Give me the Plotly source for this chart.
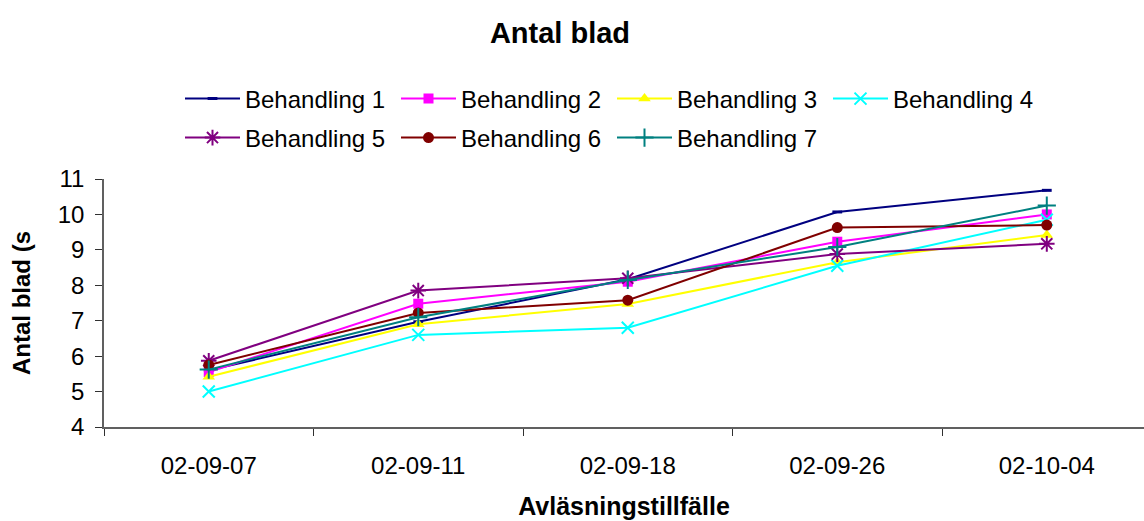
import plotly.graph_objects as go

# Reading dates and mean leaf counts per treatment
dates = ["02-09-07", "02-09-11", "02-09-18", "02-09-26", "02-10-04"]
names = ["Behandling 1", "Behandling 2", "Behandling 3", "Behandling 4",
         "Behandling 5", "Behandling 6", "Behandling 7"]
b1 = [5.60, 6.97, 8.17, 10.07, 10.68]
b2 = [5.55, 7.48, 8.10, 9.23, 10.00]
b3 = [5.42, 6.90, 7.47, 8.65, 9.42]
b4 = [5.00, 6.60, 6.80, 8.55, 9.85]
b5 = [5.87, 7.85, 8.20, 8.88, 9.17]
b6 = [5.75, 7.22, 7.58, 9.63, 9.70]
b7 = [5.62, 7.10, 8.15, 9.08, 10.25]
series = [b1, b2, b3, b4, b5, b6, b7]

colors = ["#000080", "#FF00FF", "#FFFF00", "#00FFFF", "#800080", "#800000", "#008080"]
symbols = ["line-ew-open", "square", "triangle-up", "x-thin-open",
           "asterisk-open", "circle", "cross-thin-open"]
msizes = [7, 10, 11, 12, 13, 11, 13]
mlines = [3, 0, 0, 2, 2, 0, 2]

FONT = "Liberation Sans, Arial, sans-serif"

fig = go.Figure()
for i, (name, vals) in enumerate(zip(names, series)):
    fig.add_trace(go.Scatter(
        x=dates, y=vals, name=name, mode="lines+markers",
        line=dict(color=colors[i], width=2),
        marker=dict(symbol=symbols[i], size=msizes[i], color=colors[i],
                    line=dict(color=colors[i], width=mlines[i])),
        legend="legend" if i < 4 else "legend2",
    ))

legend_common = dict(
    orientation="h", xref="container", yref="container",
    xanchor="left", yanchor="middle",
    font=dict(family=FONT, size=24, color="black"),
    entrywidth=146, entrywidthmode="pixels", itemwidth=55,
    bgcolor="rgba(0,0,0,0)", traceorder="normal",
)

fig.update_layout(
    width=1144, height=521,
    margin=dict(l=104, r=0, t=179, b=94),
    paper_bgcolor="white", plot_bgcolor="white",
    font=dict(family=FONT, size=24, color="black"),
    title=dict(text="<b>Antal blad</b>", x=560 / 1144, xanchor="center",
               y=1 - 33 / 521, yanchor="middle",
               font=dict(family=FONT, size=29, color="black")),
    showlegend=True,
    legend=dict(x=180 / 1144, y=1 - 99 / 521, **legend_common),
    legend2=dict(x=180 / 1144, y=1 - 138 / 521, **legend_common),
    xaxis=dict(
        type="category", range=[-0.5, 4.464],
        showline=True, linecolor="#606060", linewidth=1.5,
        ticks="outside", tickson="boundaries", ticklen=7, tickcolor="#303030",
        ticklabelstandoff=16,
        showgrid=False, zeroline=False,
        tickfont=dict(family=FONT, size=24, color="black"),
        title=dict(text="<b>Avläsningstillfälle</b>", standoff=20,
                   font=dict(family=FONT, size=25, color="black")),
    ),
    yaxis=dict(
        range=[4, 11], dtick=1,
        showline=True, linecolor="#606060", linewidth=1.5,
        ticks="outside", ticklen=7, tickcolor="#303030",
        ticklabelstandoff=6,
        showgrid=False, zeroline=False,
        tickfont=dict(family=FONT, size=24, color="black"),
        title=dict(text="<b>Antal blad (s</b>", standoff=20,
                   font=dict(family=FONT, size=24, color="black")),
    ),
)

fig.write_html("out.html")
